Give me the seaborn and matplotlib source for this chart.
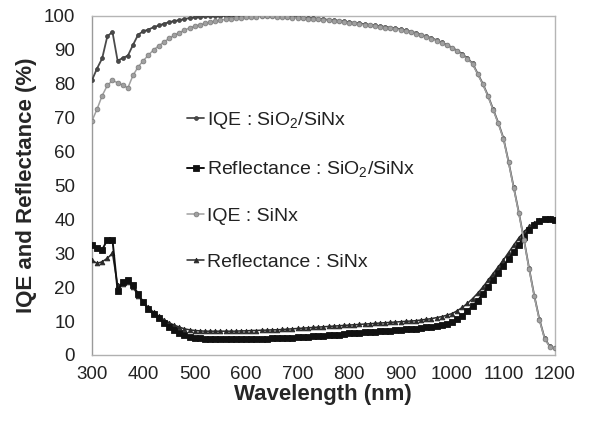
import matplotlib
matplotlib.use("Agg")
import matplotlib.pyplot as plt
import seaborn as sns
import pandas as pd

wavelength = [300, 310, 320, 330, 340, 350, 360, 370, 380, 390,
              400, 410, 420, 430, 440, 450, 460, 470, 480, 490,
              500, 510, 520, 530, 540, 550, 560, 570, 580, 590,
              600, 610, 620, 630, 640, 650, 660, 670, 680, 690,
              700, 710, 720, 730, 740, 750, 760, 770, 780, 790,
              800, 810, 820, 830, 840, 850, 860, 870, 880, 890,
              900, 910, 920, 930, 940, 950, 960, 970, 980, 990,
              1000, 1010, 1020, 1030, 1040, 1050, 1060, 1070, 1080, 1090,
              1100, 1110, 1120, 1130, 1140, 1150, 1160, 1170, 1180, 1190,
              1200]

iqe_sio2_sinx = [81.0, 84.5, 87.5, 94.0, 95.3, 86.8, 87.6, 88.3, 91.5, 94.5,
                 95.5, 96.0, 96.7, 97.2, 97.7, 98.2, 98.5, 98.8, 99.1, 99.4,
                 99.6, 99.8, 99.9, 100.0, 100.0, 100.0, 100.0, 100.0, 100.0, 100.0,
                 100.0, 100.0, 100.0, 100.0, 100.0, 100.0, 99.9, 99.9, 99.8, 99.7,
                 99.6, 99.5, 99.4, 99.3, 99.2, 99.0, 98.9, 98.7, 98.6, 98.4,
                 98.2, 98.0, 97.8, 97.6, 97.4, 97.2, 97.0, 96.8, 96.6, 96.4,
                 96.1, 95.8, 95.4, 95.0, 94.5, 94.0, 93.5, 92.9, 92.2, 91.5,
                 90.7, 89.8, 88.8, 87.5, 86.0, 83.0, 80.0, 76.5, 72.5, 68.5,
                 64.0, 57.0, 49.5, 42.0, 34.0, 25.5, 17.5, 10.5, 5.0, 2.5,
                 2.0]

refl_sio2_sinx = [32.5, 31.5, 31.0, 34.0, 34.0, 19.0, 21.5, 22.0, 20.5, 18.0,
                  15.5, 13.5, 12.0, 10.8, 9.5, 8.3, 7.3, 6.5, 5.8, 5.3,
                  5.0, 4.9, 4.8, 4.7, 4.7, 4.6, 4.6, 4.6, 4.6, 4.7,
                  4.7, 4.7, 4.8, 4.8, 4.8, 4.9, 4.9, 5.0, 5.0, 5.1,
                  5.2, 5.3, 5.4, 5.5, 5.6, 5.7, 5.8, 5.9, 6.0, 6.2,
                  6.4, 6.5, 6.6, 6.7, 6.8, 6.9, 7.0, 7.1, 7.2, 7.3,
                  7.4, 7.5, 7.6, 7.7, 7.9, 8.1, 8.3, 8.6, 8.9, 9.2,
                  9.6, 10.5, 11.6, 13.0, 14.4, 16.0, 18.0, 20.0, 22.2, 24.2,
                  26.2, 28.3, 30.3, 32.5, 34.8, 36.8, 38.3, 39.4, 40.0, 40.2,
                  39.8]

iqe_sinx = [69.0, 72.5, 76.5, 79.5, 81.0, 80.3, 79.6, 78.8, 82.5, 85.0,
            86.8, 88.5, 90.0, 91.2, 92.3, 93.4, 94.3, 95.1, 95.8, 96.5,
            97.0, 97.4, 97.8, 98.2, 98.5, 98.8, 99.0, 99.2, 99.4, 99.5,
            99.6, 99.7, 99.8, 99.9, 99.9, 100.0, 99.8, 99.7, 99.6, 99.5,
            99.4, 99.3, 99.2, 99.1, 99.0, 98.8, 98.7, 98.5, 98.4, 98.2,
            98.0, 97.8, 97.6, 97.4, 97.2, 97.0, 96.8, 96.6, 96.4, 96.2,
            95.9, 95.6, 95.2, 94.8, 94.3, 93.8, 93.3, 92.7, 92.0, 91.3,
            90.5, 89.6, 88.6, 87.3, 85.8, 82.8, 79.8, 76.3, 72.3, 68.3,
            63.8, 56.8, 49.3, 41.8, 33.8, 25.3, 17.3, 10.3, 4.8, 2.4,
            2.0]

refl_sinx = [28.0, 27.0, 27.5, 28.5, 30.0, 20.5, 21.0, 21.5, 20.0, 17.5,
             15.5, 14.0, 12.6, 11.4, 10.4, 9.5, 8.8, 8.2, 7.7, 7.4,
             7.2, 7.1, 7.0, 7.0, 7.0, 7.0, 7.0, 7.0, 7.0, 7.1,
             7.1, 7.2, 7.2, 7.3, 7.3, 7.4, 7.4, 7.5, 7.6, 7.7,
             7.8, 7.9, 8.0, 8.1, 8.2, 8.3, 8.4, 8.5, 8.6, 8.7,
             8.8, 8.9, 9.0, 9.1, 9.2, 9.3, 9.4, 9.5, 9.6, 9.7,
             9.8, 9.9, 10.0, 10.1, 10.3, 10.5, 10.7, 11.0, 11.3, 11.7,
             12.2, 13.0, 14.0, 15.2, 16.6, 18.2, 20.0, 22.0, 24.0, 26.0,
             28.0, 30.2, 32.4, 34.5, 36.3, 37.9, 39.0, 39.8, 40.2, 40.3,
             40.0]

labels = ["IQE : SiO$_2$/SiNx", "Reflectance : SiO$_2$/SiNx",
          "IQE : SiNx", "Reflectance : SiNx"]
x_ticks = [300, 400, 500, 600, 700, 800, 900, 1000, 1100, 1200]
y_ticks = [0, 10, 20, 30, 40, 50, 60, 70, 80, 90, 100]

sns.set_theme(style="white")
plt.rcParams["font.family"] = ["Liberation Sans", "DejaVu Sans"]
plt.rcParams["mathtext.default"] = "regular"

fig = plt.figure(figsize=(5.89, 4.21), dpi=100)
ax = fig.add_axes([0.156, 0.157, 0.786, 0.805])

series = [
    (refl_sinx, labels[3], dict(color="#2a2a2a", marker="^", markersize=3.4, linewidth=1.1,
                                markeredgecolor="#2a2a2a", markeredgewidth=0.6, zorder=3)),
    (refl_sio2_sinx, labels[1], dict(color="#111111", marker="s", markersize=4.8, linewidth=1.4,
                                     markeredgecolor="#111111", markeredgewidth=0.6, zorder=4)),
    (iqe_sio2_sinx, labels[0], dict(color="#4a4a4a", marker="o", markersize=2.8, linewidth=1.3,
                                    markeredgecolor="#3a3a3a", markeredgewidth=0.5, zorder=4)),
    (iqe_sinx, labels[2], dict(color="#a0a0a0", marker="o", markersize=3.4, linewidth=1.1,
                               markeredgecolor="#808080", markeredgewidth=0.6, zorder=5)),
]
for vals, lab, kw in series:
    df = pd.DataFrame({"wavelength": wavelength, "value": vals})
    sns.lineplot(data=df, x="wavelength", y="value", ax=ax, label=lab, **kw)

ax.set_xlim(300, 1200)
ax.set_ylim(0, 100)
ax.set_xticks(x_ticks)
ax.set_yticks(y_ticks)
ax.tick_params(axis="both", direction="in", length=4, color="#999999",
               labelsize=13.5, labelcolor="#222222")
ax.tick_params(axis="y", pad=12)
ax.tick_params(axis="x", pad=8)
for side, sp in ax.spines.items():
    sp.set_color("#b5b5b5")
    sp.set_linewidth(1.0)
ax.spines["left"].set_color("#9a9a9a")
ax.spines["bottom"].set_color("#b0b0b0")

ax.set_xlabel("Wavelength (nm)", fontsize=16, fontweight="bold", labelpad=1)
ax.set_ylabel("IQE and Reflectance (%)", fontsize=16, fontweight="bold", labelpad=5)

h, l = ax.get_legend_handles_labels()
order = [l.index(x) for x in labels]
leg = ax.legend([h[i] for i in order], [l[i] for i in order],
                loc="upper left", bbox_to_anchor=(0.205, 0.722), frameon=False,
                fontsize=14, handlelength=0.9, handletextpad=0.15,
                labelspacing=1.45, borderaxespad=0, borderpad=0)
for t in leg.get_texts():
    t.set_color("#222222")

fig.savefig("out.png", dpi=100)
